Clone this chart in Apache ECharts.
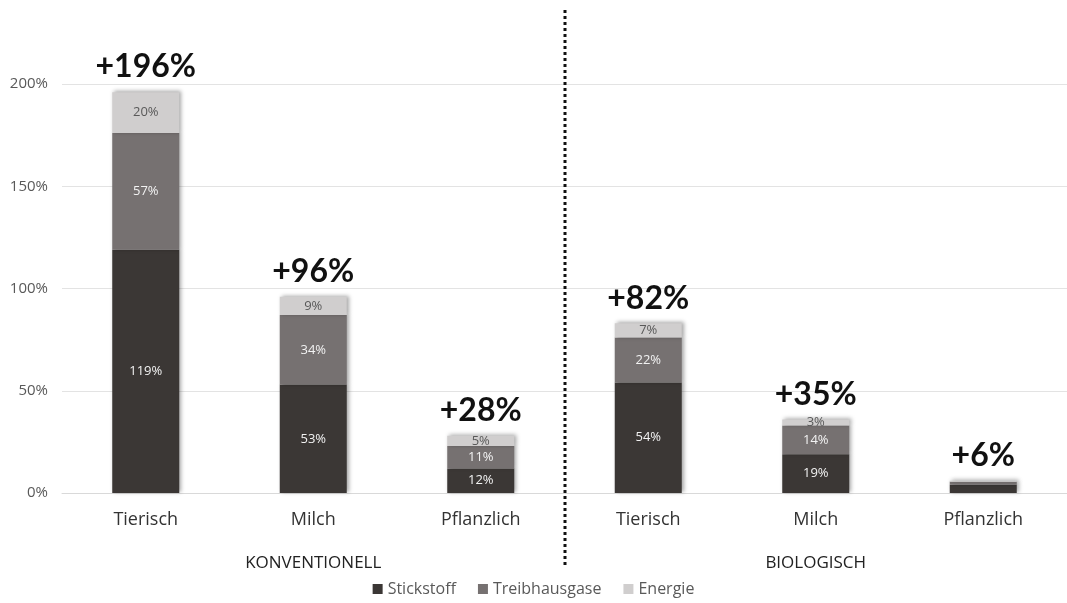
<!DOCTYPE html>
<html>
<head>
<meta charset="utf-8">
<script src="https://cdn.jsdelivr.net/npm/echarts@6/dist/echarts.min.js"></script>
<style>
html,body{margin:0;padding:0;background:#fff;}
#chart{width:1067px;height:603px;}
</style>
</head>
<body>
<div id="chart"></div>
<script>
var categories = ['Tierisch', 'Milch', 'Pflanzlich', 'Tierisch', 'Milch', 'Pflanzlich'];
var groups = ['KONVENTIONELL', 'BIOLOGISCH'];
var stickstoff = [119, 53, 12, 54, 19, 4];
var treibhausgase = [57, 34, 11, 22, 14, 1.5];
var energie = [20, 9, 5, 7, 3, 0.5];
var totals = ['+196%', '+96%', '+28%', '+82%', '+35%', '+6%'];
var showSegLabel = [true, true, true, true, true, false];

var FONT = '"Open Sans"';
var chartObj = echarts.init(document.getElementById('chart'));

function segData(values, color){
	var out = [];
	for (var i = 0; i < values.length; i++) {
		out.push({value: values[i], label: {show: showSegLabel[i], color: color}});
	}
	return out;
}

var barStyle = function(c){
	return {color: c, shadowBlur: 4, shadowColor: 'rgba(0,0,0,0.35)', shadowOffsetX: 2, shadowOffsetY: -1};
};

var segLabel = {
	show: true,
	position: 'inside',
	fontFamily: FONT,
	fontSize: 13,
	formatter: function(p){ return Math.round(p.value) + '%'; }
};

var option = {
	backgroundColor: '#fff',
	animation: false,
	grid: {left: 62, width: 1014, top: 84, bottom: 110},
	legend: {
		bottom: 1,
		left: 'center',
		itemWidth: 10,
		itemHeight: 10,
		itemGap: 22,
		icon: 'rect',
		textStyle: {fontFamily: FONT, fontSize: 16, color: '#595959'},
		data: ['Stickstoff', 'Treibhausgase', 'Energie']
	},
	xAxis: [
		{
			type: 'category',
			data: categories,
			axisLine: {lineStyle: {color: '#d9d9d9'}},
			axisTick: {show: false},
			axisLabel: {fontFamily: FONT, fontSize: 18, color: '#333', margin: 18}
		},
		{
			type: 'category',
			data: groups,
			position: 'bottom',
			offset: 54,
			axisLine: {show: false},
			axisTick: {show: false},
			axisLabel: {fontFamily: FONT, fontSize: 17, color: '#222'}
		}
	],
	yAxis: {
		type: 'value',
		min: 0,
		max: 200,
		interval: 50,
		axisLine: {show: false},
		axisTick: {show: false},
		splitLine: {lineStyle: {color: '#e3e3e3'}},
		axisLabel: {fontFamily: FONT, fontSize: 15, color: '#595959', margin: 14, formatter: '{value}%'}
	},
	series: [
		{
			name: 'Stickstoff', type: 'bar', stack: 'a', barWidth: '40%',
			itemStyle: barStyle('#3b3735'),
			label: segLabel,
			data: segData(stickstoff, '#f2f2f2')
		},
		{
			name: 'Treibhausgase', type: 'bar', stack: 'a',
			itemStyle: barStyle('#767171'),
			label: segLabel,
			data: segData(treibhausgase, '#f2f2f2')
		},
		{
			name: 'Energie', type: 'bar', stack: 'a',
			itemStyle: barStyle('#d0cece'),
			label: segLabel,
			data: segData(energie, '#595959')
		},
		{
			// Summen ueber den Balken
			name: 'Summe', type: 'bar', stack: 'a',
			itemStyle: {color: 'transparent'},
			label: {
				show: true,
				position: 'insideBottom',
				distance: 9,
				fontFamily: 'Lato',
				fontWeight: 'bold',
				fontSize: 32,
				color: '#111',
				formatter: function(p){ return totals[p.dataIndex]; }
			},
			data: [0, 0, 0, 0, 0, 0]
		}
	]
};
chartObj.setOption(option);

// Trennlinie zwischen konventionell und biologisch
var x0 = chartObj.convertToPixel({xAxisIndex: 0}, 2);
var x1 = chartObj.convertToPixel({xAxisIndex: 0}, 3);
var xm = Math.round((x0 + x1) / 2);
chartObj.setOption({
	graphic: [{
		type: 'line',
		shape: {x1: xm, y1: 10, x2: xm, y2: 566},
		style: {stroke: '#111', lineWidth: 3, lineDash: [3, 3]}
	}]
});
</script>
</body>
</html>
